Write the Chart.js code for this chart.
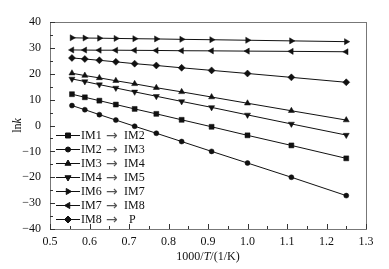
<!DOCTYPE html>
<html>
<head>
<meta charset="utf-8">
<script src="https://cdn.jsdelivr.net/npm/chart.js@4.4.1/dist/chart.umd.min.js"></script>
<style>
  html, body { margin: 0; padding: 0; background: #fff; }
  #wrap { position: relative; width: 389px; height: 269px; }
</style>
</head>
<body>
<div id="wrap"><canvas id="chart_lnk"></canvas></div>
<script>
// 1000/T for T = 1800 ... 800 K
var invT = [0.5556, 0.5882, 0.625, 0.6667, 0.7143, 0.7692, 0.8333, 0.9091, 1.0, 1.1111, 1.25];

var im1_im2 = [12.1, 10.9, 9.6, 8.1, 6.4, 4.5, 2.2, -0.5, -3.8, -7.7, -12.7];
var im2_im3 = [7.7, 6.1, 4.2, 2.1, -0.3, -3.0, -6.2, -10.0, -14.5, -20.0, -27.1];
var im3_im4 = [20.2, 19.3, 18.4, 17.3, 16.1, 14.6, 13.0, 11.0, 8.6, 5.7, 2.1];
var im4_im5 = [18.0, 17.0, 15.8, 14.5, 13.0, 11.3, 9.3, 7.0, 4.1, 0.6, -3.7];
var im6_im7 = [33.9, 33.8, 33.75, 33.65, 33.55, 33.45, 33.3, 33.15, 32.95, 32.7, 32.4];
var im7_im8 = [29.2, 29.15, 29.1, 29.1, 29.05, 29.0, 28.9, 28.85, 28.75, 28.65, 28.5];
var im8_p   = [26.1, 25.7, 25.2, 24.6, 23.9, 23.2, 22.3, 21.3, 20.1, 18.6, 16.7];

var seriesFrom = ['IM1', 'IM2', 'IM3', 'IM4', 'IM6', 'IM7', 'IM8'];
var seriesTo   = ['IM2', 'IM3', 'IM4', 'IM5', 'IM7', 'IM8', 'P'];
var seriesData = [im1_im2, im2_im3, im3_im4, im4_im5, im6_im7, im7_im8, im8_p];
var pointStyles = ['rect', 'circle', 'triangle', 'triangle', 'triangle', 'triangle', 'rectRot'];
var pointRotations = [0, 0, 0, 180, 90, -90, 0];
var pointRadii = [3.5, 2.5, 3.5, 3.5, 3.5, 3.5, 3.5];

var xTicks = [0.5, 0.6, 0.7, 0.8, 0.9, 1.0, 1.1, 1.2, 1.3];
var yTicks = [-40, -30, -20, -10, 0, 10, 20, 30, 40];

var serif = "'Liberation Serif', 'DejaVu Serif', serif";

function toPoints(arr) {
    return arr.map(function (v, i) { return {x: invT[i], y: v}; });
}

var datasets = seriesData.map(function (arr, i) {
    return {
        label: seriesFrom[i] + ' \u2192 ' + seriesTo[i],
        data: toPoints(arr),
        borderColor: '#111',
        backgroundColor: '#111',
        borderWidth: 1,
        pointStyle: pointStyles[i],
        rotation: pointRotations[i],
        pointRadius: pointRadii[i],
        pointBorderWidth: 0.5,
        fill: false,
        tension: 0
    };
});

var framePlugin = {
    id: 'framePlugin',
    beforeDraw: function (chart) {
        var ctx = chart.ctx;
        ctx.save();
        ctx.fillStyle = 'white';
        ctx.fillRect(0, 0, chart.width, chart.height);
        ctx.restore();
    },
    afterDraw: function (chart) {
        var ctx = chart.ctx;
        var a = chart.chartArea;
        var xs = chart.scales.x, ys = chart.scales.y;
        ctx.save();
        // frame
        ctx.strokeStyle = '#777';
        ctx.lineWidth = 1;
        ctx.strokeRect(Math.round(a.left) + 0.5, Math.round(a.top) + 0.5,
            Math.round(a.right - a.left), Math.round(a.bottom - a.top));
        // inward ticks
        ctx.strokeStyle = '#333';
        var v, p;
        for (v = 0.5; v <= 1.3001; v += 0.05) {
            p = Math.round(xs.getPixelForValue(v)) + 0.5;
            var major = Math.abs(v * 10 - Math.round(v * 10)) < 0.01;
            ctx.beginPath();
            ctx.moveTo(p, a.bottom);
            ctx.lineTo(p, a.bottom - (major ? 5 : 3));
            ctx.stroke();
        }
        for (v = -40; v <= 40; v += 5) {
            p = Math.round(ys.getPixelForValue(v)) + 0.5;
            ctx.beginPath();
            ctx.moveTo(a.left, p);
            ctx.lineTo(a.left + (v % 10 === 0 ? 5 : 3), p);
            ctx.stroke();
        }
        // axis titles
        ctx.fillStyle = '#111';
        ctx.textBaseline = 'middle';
        var partsX = [['1000/', 'normal'], ['T', 'italic'], ['/(1/K)', 'normal']];
        var total = 0;
        partsX.forEach(function (pt) {
            ctx.font = pt[1] + ' 12px ' + serif;
            total += ctx.measureText(pt[0]).width;
        });
        var cx = (a.left + a.right) / 2 - total / 2;
        partsX.forEach(function (pt) {
            ctx.font = pt[1] + ' 12px ' + serif;
            ctx.textAlign = 'left';
            ctx.fillText(pt[0], cx, 257);
            cx += ctx.measureText(pt[0]).width;
        });
        ctx.save();
        ctx.translate(18, (a.top + a.bottom) / 2);
        ctx.rotate(-Math.PI / 2);
        var partsY = [['ln', 'normal'], ['k', 'italic']];
        total = 0;
        partsY.forEach(function (pt) {
            ctx.font = pt[1] + ' 12px ' + serif;
            total += ctx.measureText(pt[0]).width;
        });
        cx = -total / 2;
        partsY.forEach(function (pt) {
            ctx.font = pt[1] + ' 12px ' + serif;
            ctx.textAlign = 'left';
            ctx.fillText(pt[0], cx, 0);
            cx += ctx.measureText(pt[0]).width;
        });
        ctx.restore();
        // legend
        var rowY = 135;
        chart.data.datasets.forEach(function (ds, i) {
            var y = rowY + i * 14;
            ctx.strokeStyle = '#111';
            ctx.lineWidth = 1;
            ctx.beginPath();
            ctx.moveTo(56, y + 0.5);
            ctx.lineTo(80, y + 0.5);
            ctx.stroke();
            ctx.fillStyle = '#111';
            Chart.helpers.drawPoint(ctx, {
                pointStyle: ds.pointStyle,
                rotation: ds.rotation,
                radius: ds.pointRadius,
                borderWidth: 0.5
            }, 68, y + 0.5);
            ctx.font = '12px ' + serif;
            ctx.textAlign = 'left';
            ctx.fillStyle = '#111';
            ctx.fillText(seriesFrom[i], 81, y + 1);
            ctx.fillStyle = '#555';
            ctx.font = "14px 'DejaVu Sans', sans-serif";
            ctx.fillText('\u2192', 106, y + 1);
            ctx.fillStyle = '#111';
            ctx.font = '12px ' + serif;
            ctx.fillText(seriesTo[i], seriesTo[i] === 'P' ? 129 : 124, y + 1);
        });
        ctx.restore();
    }
};

var chart_lnk = new Chart(document.getElementById('chart_lnk'), {
    type: 'line',
    data: { datasets: datasets },
    options: {
        animation: false,
        responsive: true,
        maintainAspectRatio: false,
        layout: { padding: { left: 0, right: 23, top: 22, bottom: 0 } },
        plugins: {
            legend: { display: false },
            tooltip: { enabled: false }
        },
        scales: {
            x: {
                type: 'linear',
                min: 0.5,
                max: 1.3,
                grid: { display: false },
                border: { display: false },
                afterBuildTicks: function (scale) {
                    scale.ticks = xTicks.map(function (v) { return {value: v}; });
                },
                afterFit: function (scale) { scale.height = 40; },
                ticks: {
                    padding: -2,
                    color: '#111',
                    font: { family: serif, size: 12 },
                    callback: function (value) { return Number(value).toFixed(1); }
                }
            },
            y: {
                type: 'linear',
                min: -40,
                max: 40,
                grid: { display: false },
                border: { display: false },
                afterBuildTicks: function (scale) {
                    scale.ticks = yTicks.map(function (v) { return {value: v}; });
                },
                afterFit: function (scale) { scale.width = 50; },
                ticks: {
                    padding: 1,
                    color: '#111',
                    font: { family: serif, size: 12 },
                    callback: function (value) {
                        return value < 0 ? '\u2212' + Math.abs(value) : String(value);
                    }
                }
            }
        }
    },
    plugins: [framePlugin]
});
</script>
</body>
</html>
